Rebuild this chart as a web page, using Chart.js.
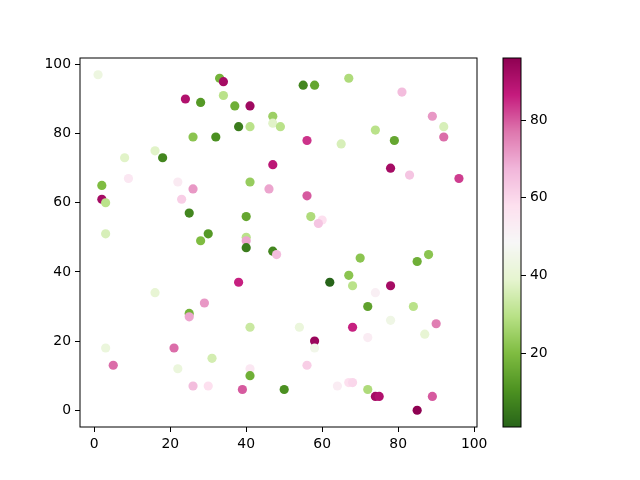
<!DOCTYPE html>
<html lang="en">
<head>
<title>Scatter with colorbar</title>
<meta charset="utf-8"/>
<script src="https://cdn.jsdelivr.net/npm/chart.js"></script>
<style>
    body {
      margin: 0;
      background: white;
    }
    #wrap {
      position: relative;
      width: 640px;
      height: 480px;
    }
    #bar {
      position: absolute;
      left: 490px;
      top: 0;
    }
  </style>
</head>
<body>
<div id="wrap">
<canvas id="scatter" width="640" height="480"></canvas>
<canvas id="bar" width="150" height="480"></canvas>
</div>
<script>
    // point positions and the colour value of each point
    const xs = [1, 24, 28, 26, 32, 8, 16, 18, 9, 22, 2, 33, 34, 34, 37, 41, 55, 58, 67, 47,
                47, 49, 38, 41, 56, 65, 47, 41, 81, 89, 92, 92, 74, 79, 78, 83, 96, 26, 23, 2,
                3, 25, 3, 30, 28, 16, 29, 46, 56, 40, 57, 60, 59, 40, 40, 40, 47, 48, 38, 62,
                67, 68, 70, 85, 88, 74, 78, 72, 84, 78, 90, 68, 72, 87, 67, 68, 72, 74, 75, 89,
                85, 41, 54, 58, 58, 31, 41, 41, 56, 39, 50, 64, 25, 25, 3, 5, 21, 22, 26, 30];
    const ys = [97, 90, 89, 79, 79, 73, 75, 73, 67, 66, 65, 96, 95, 91, 88, 88, 94, 94, 96, 85,
                83, 82, 82, 82, 78, 77, 71, 66, 92, 85, 82, 79, 81, 78, 70, 68, 67, 64, 61, 61,
                60, 57, 51, 51, 49, 34, 31, 64, 62, 56, 56, 55, 54, 50, 49, 47, 46, 45, 37, 37,
                39, 36, 44, 43, 45, 34, 36, 30, 30, 26, 25, 24, 21, 22, 8, 8, 6, 4, 4, 4,
                0, 24, 24, 20, 18, 15, 12, 10, 13, 6, 6, 7, 28, 27, 18, 13, 18, 12, 7, 7];
    const cs = [43, 90, 12, 22, 10, 38, 38, 8, 55, 54, 20, 18, 92, 30, 17, 93, 8, 15, 28, 25,
                38, 30, 6, 30, 84, 36, 88, 24, 66, 72, 36, 78, 30, 15, 92, 64, 83, 72, 62, 92,
                30, 8, 36, 12, 20, 40, 72, 70, 80, 15, 28, 58, 64, 30, 70, 6, 8, 66, 86, 1,
                22, 30, 22, 17, 22, 52, 92, 14, 30, 44, 76, 86, 53, 40, 58, 60, 28, 92, 90, 80,
                96, 33, 42, 94, 45, 35, 55, 17, 62, 80, 10, 53, 18, 70, 42, 78, 78, 42, 66, 58];

    const cMin = Math.min(...cs);
    const cMax = Math.max(...cs);

    // PiYG reversed: green at the low end, magenta at the high end
    const stops = ['#276419', '#4d9221', '#7fbc41', '#b8e186', '#e6f5d0', '#f7f7f7',
                   '#fde0ef', '#f1b6da', '#de77ae', '#c51b7d', '#8e0152'];
    const rgbStops = stops.map(h => [1, 3, 5].map(i => parseInt(h.substr(i, 2), 16)));

    function cmap(v) {
      let t = (v - cMin) / (cMax - cMin);
      t = Math.max(0, Math.min(1, t)) * (stops.length - 1);
      const i = Math.min(Math.floor(t), stops.length - 2);
      const f = t - i;
      const a = rgbStops[i], b = rgbStops[i + 1];
      const c = a.map((v0, k) => Math.round(v0 + (b[k] - v0) * f));
      return 'rgb(' + c.join(',') + ')';
    }

    const tickFont = { family: 'DejaVu Sans', size: 13.9 };

    const frame = {
      id: 'frame',
      afterDraw(chart) {
        const a = chart.chartArea;
        const ctx = chart.ctx;
        ctx.save();
        ctx.strokeStyle = '#000';
        ctx.lineWidth = 1;
        ctx.strokeRect(a.left, a.top, a.right - a.left, a.bottom - a.top);
        ctx.restore();
      }
    };

    new Chart(document.getElementById('scatter'), {
      type: 'scatter',
      data: {
        datasets: [{
          data: xs.map((x, i) => ({ x: x, y: ys[i] })),
          backgroundColor: cs.map(cmap),
          borderWidth: 0,
          pointRadius: 4.6,
          pointHoverRadius: 4.6
        }]
      },
      options: {
        responsive: false,
        animation: false,
        devicePixelRatio: 1,
        layout: { autoPadding: false, padding: { left: 0, top: 58, right: 163, bottom: 0 } },
        plugins: { legend: { display: false }, tooltip: { enabled: false } },
        scales: {
          x: {
            min: -3.75,
            max: 100.75,
            afterFit: s => { s.height = 53; },
            border: { display: false },
            grid: { drawOnChartArea: false, tickLength: 5, color: '#000' },
            ticks: { stepSize: 20, includeBounds: false, maxRotation: 0, padding: 4, color: '#000', font: tickFont }
          },
          y: {
            min: -4.85,
            max: 101.85,
            afterFit: s => { s.width = 80; },
            border: { display: false },
            grid: { drawOnChartArea: false, tickLength: 5, color: '#000' },
            ticks: { stepSize: 20, includeBounds: false, padding: 4, color: '#000', font: tickFont }
          }
        }
      },
      plugins: [frame]
    });

    const gradientBar = {
      id: 'gradientBar',
      beforeDatasetsDraw(chart) {
        const a = chart.chartArea;
        const y = chart.scales.y;
        const ctx = chart.ctx;
        for (let py = Math.floor(a.top); py < a.bottom; py++) {
          ctx.fillStyle = cmap(y.getValueForPixel(py + 0.5));
          ctx.fillRect(a.left, py, a.right - a.left, 1);
        }
      }
    };

    new Chart(document.getElementById('bar'), {
      type: 'scatter',
      data: { datasets: [] },
      options: {
        responsive: false,
        animation: false,
        devicePixelRatio: 1,
        layout: { autoPadding: false, padding: { left: 13, top: 58, right: 0, bottom: 53 } },
        plugins: { legend: { display: false }, tooltip: { enabled: false } },
        scales: {
          x: { display: false, min: 0, max: 1 },
          y: {
            position: 'right',
            min: cMin,
            max: cMax,
            afterFit: s => { s.width = 119; },
            border: { display: false },
            grid: { drawOnChartArea: false, tickLength: 5, color: '#000' },
            ticks: { stepSize: 20, includeBounds: false, padding: 4, color: '#000', font: tickFont }
          }
        }
      },
      plugins: [gradientBar, frame]
    });
  </script>
</body>
</html>
